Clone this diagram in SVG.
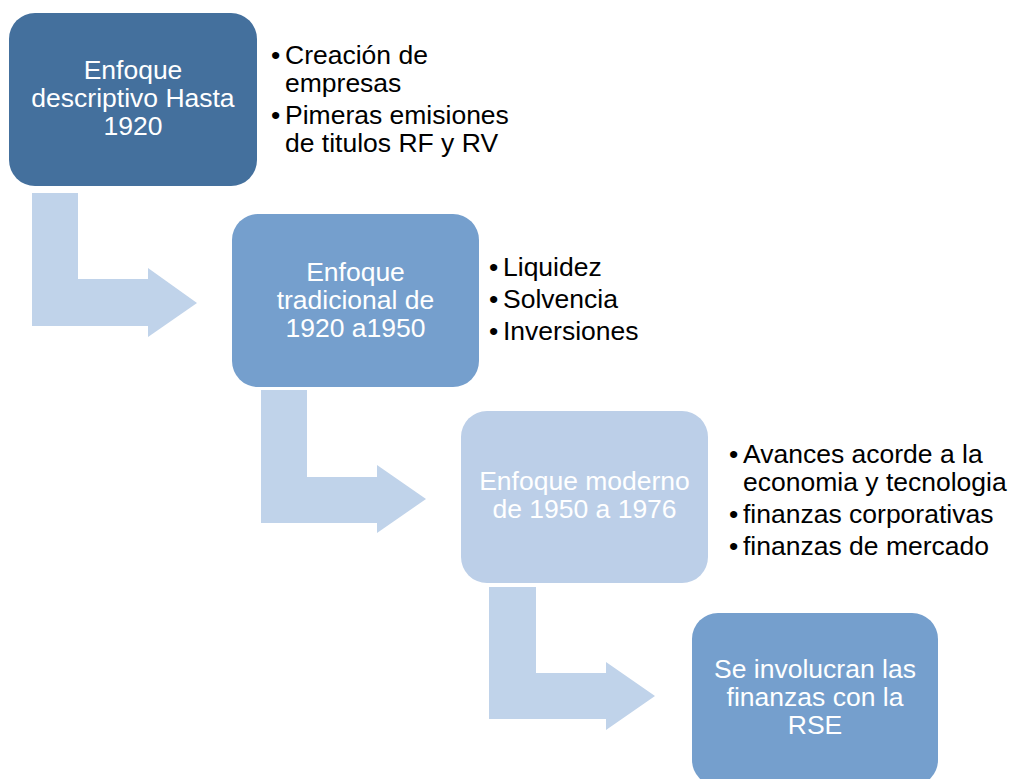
<svg xmlns="http://www.w3.org/2000/svg" width="1013" height="779" viewBox="0 0 1013 779">
<style>
.t{font-family:"Liberation Sans",Arial,sans-serif;font-size:26.5px}
.w{fill:#ffffff;text-anchor:middle}
.b{fill:#000000}
.arr{fill:#c0d3ea}
</style>
<rect width="1013" height="779" fill="#ffffff"/>
<g id="connectors">
<polygon class="arr" points="32,193 78,193 78,279 148,279 148,268 197,303 148,337 148,326 32,326"/>
<polygon class="arr" points="261,390 307,390 307,477 377,477 377,465 426,499 377,533 377,523 261,523"/>
<polygon class="arr" points="489,587 536,587 536,673 606,673 606,662 655,696 606,730 606,719 489,719"/>
</g>
<g id="node1">
<rect x="9" y="13" width="248" height="173" rx="26" fill="#44709d"/>
<text class="t w" x="133" y="79">Enfoque</text>
<text class="t w" x="133" y="107">descriptivo Hasta</text>
<text class="t w" x="133" y="135">1920</text>
<text class="t b" x="271" y="64">•</text>
<text class="t b" x="285" y="64">Creación de</text>
<text class="t b" x="285" y="92">empresas</text>
<text class="t b" x="271" y="124">•</text>
<text class="t b" x="285" y="124">Pimeras emisiones</text>
<text class="t b" x="285" y="152">de titulos RF y RV</text>
</g>
<g id="node2">
<rect x="232" y="214" width="247" height="173" rx="26" fill="#759fcd"/>
<text class="t w" x="355.5" y="281">Enfoque</text>
<text class="t w" x="355.5" y="309">tradicional de</text>
<text class="t w" x="355.5" y="337">1920 a1950</text>
<text class="t b" x="489" y="276">•</text>
<text class="t b" x="503" y="276">Liquidez</text>
<text class="t b" x="489" y="308">•</text>
<text class="t b" x="503" y="308">Solvencia</text>
<text class="t b" x="489" y="340">•</text>
<text class="t b" x="503" y="340">Inversiones</text>
</g>
<g id="node3">
<rect x="461" y="411" width="247" height="172" rx="26" fill="#bccfe8"/>
<text class="t w" x="584.5" y="490">Enfoque moderno</text>
<text class="t w" x="584.5" y="518">de 1950 a 1976</text>
<text class="t b" x="729" y="463">•</text>
<text class="t b" x="743" y="463">Avances acorde a la</text>
<text class="t b" x="743" y="491">economia y tecnologia</text>
<text class="t b" x="729" y="523">•</text>
<text class="t b" x="743" y="523">finanzas corporativas</text>
<text class="t b" x="729" y="555">•</text>
<text class="t b" x="743" y="555">finanzas de mercado</text>
</g>
<g id="node4">
<rect x="692" y="613" width="246" height="173" rx="26" fill="#759fcd"/>
<text class="t w" x="815" y="678">Se involucran las</text>
<text class="t w" x="815" y="706">finanzas con la</text>
<text class="t w" x="815" y="734">RSE</text>
</g>
</svg>
